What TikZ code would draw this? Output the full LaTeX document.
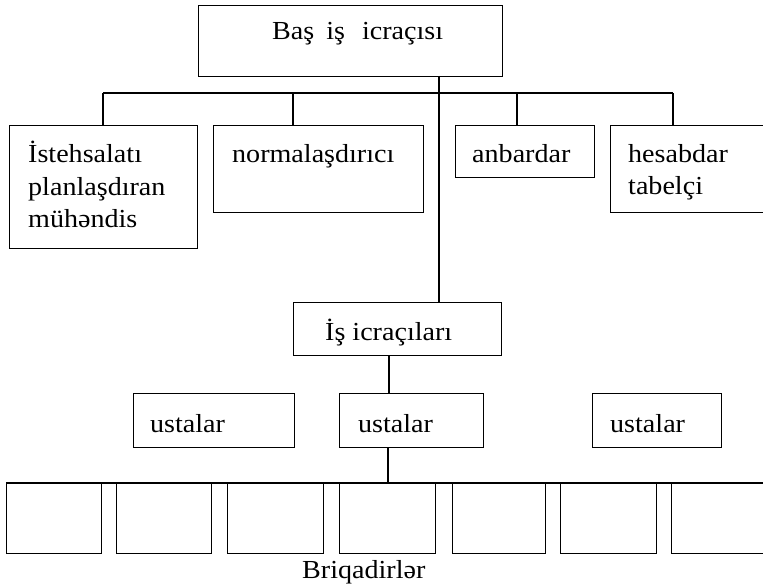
\documentclass[tikz,border=0pt]{standalone}
\usepackage{fontspec}
\setmainfont{Liberation Serif}[FakeStretch=1.08]
\begin{document}
\begin{tikzpicture}[x=1pt,y=-1pt,
  box/.style={draw, line width=1.3pt, rectangle, inner sep=0pt},
  lbl/.style={font=\fontsize{26}{32.5}\selectfont, inner sep=0pt, anchor=base west, align=left},
  conn/.style={line width=1.2pt}]
\useasboundingbox (0,0) rectangle (763,588);
% boxes
\node[box, minimum width=304pt, minimum height=71pt, anchor=north west] (top) at (198,5) {};
\node[box, minimum width=188pt, minimum height=123pt, anchor=north west] (ist) at (9,125) {};
\node[box, minimum width=210pt, minimum height=87pt, anchor=north west] (norm) at (213,125) {};
\node[box, minimum width=139pt, minimum height=52pt, anchor=north west] (anb) at (455,125) {};
\node[box, minimum width=156pt, minimum height=87pt, anchor=north west] (hes) at (610,125) {};
\node[box, minimum width=208pt, minimum height=53pt, anchor=north west] (isic) at (293,302) {};
\node[box, minimum width=161pt, minimum height=54pt, anchor=north west] (u1) at (133,393) {};
\node[box, minimum width=144pt, minimum height=54pt, anchor=north west] (u2) at (339,393) {};
\node[box, minimum width=129pt, minimum height=54pt, anchor=north west] (u3) at (592,393) {};
\node[box, minimum width=95pt, minimum height=70pt, anchor=north west] (b1) at (6,483) {};
\node[box, minimum width=95pt, minimum height=70pt, anchor=north west] (b2) at (116,483) {};
\node[box, minimum width=96pt, minimum height=70pt, anchor=north west] (b3) at (227,483) {};
\node[box, minimum width=96pt, minimum height=70pt, anchor=north west] (b4) at (339,483) {};
\node[box, minimum width=93pt, minimum height=70pt, anchor=north west] (b5) at (452,483) {};
\node[box, minimum width=96pt, minimum height=70pt, anchor=north west] (b6) at (560,483) {};
\node[box, minimum width=95pt, minimum height=70pt, anchor=north west] (b7) at (671,483) {};
% texts
\node[lbl] (ttop) at (272,40) {Baş\hspace{12pt}iş\hspace{17pt}icraçısı};
\node[lbl] (tist) at (28,228) {İstehsalatı\\planlaşdıran\\mühəndis};
\node[lbl] (tnorm) at (232,163) {normalaşdırıcı};
\node[lbl] (tanb) at (472,163) {anbardar};
\node[lbl, font=\fontsize{26}{32}\selectfont] (thes) at (628,195) {hesabdar\\tabelçi};
\node[lbl] (tisic) at (325,340) {İş icraçıları};
\node[lbl] (tu1) at (150,432) {ustalar};
\node[lbl] (tu2) at (358,432) {ustalar};
\node[lbl] (tu3) at (610,432) {ustalar};
\node[lbl] (tbr) at (302,578) {Briqadirlər};
% connectors
\coordinate (busL) at (103,93);
\coordinate (busR) at (673,93);
\draw[conn] (busL) -- (busR);
\draw[conn] (busL) -- (busL |- ist.north);
\draw[conn] (293,93) -- (293,93 |- norm.north);
\draw[conn] (517,93) -- (517,93 |- anb.north);
\draw[conn] (busR) -- (busR |- hes.north);
\draw[conn] (439,76) coordinate (tA) -- (tA |- isic.north);
\draw[conn] (389,355) coordinate (iA) -- (iA |- u2.north);
\draw[conn] (388,447) coordinate (uA) -- (uA |- b4.north);
\draw[conn] (b1.north west) -- (b7.north east);
\end{tikzpicture}
\end{document}
